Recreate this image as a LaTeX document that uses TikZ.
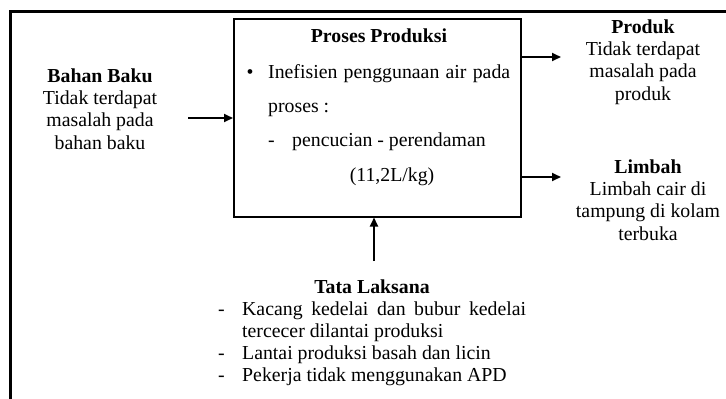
\documentclass[tikz,border=0pt]{standalone}
\usepackage{fontspec}
\setmainfont{Liberation Serif}
\usetikzlibrary{arrows.meta}
\begin{document}
\begin{tikzpicture}[x=1pt,y=-1pt,
  txt/.style={inner sep=0pt, font=\fontsize{19.8}{22.3}\selectfont},
  blk/.style={txt, align=center, anchor=base},
  lft/.style={txt, anchor=base west},
  arr/.style={line width=2pt, -{Triangle[length=9pt,width=8pt]}},
]
\useasboundingbox (0,0) rectangle (726,399);
\draw[line width=3pt] (10,399) -- (10,11) -- (726,11);
% process box
\node[draw, line width=1.5pt, inner sep=0pt, minimum width=287pt, minimum height=198pt, anchor=north west] (box) at (233,18) {};
\node[blk] (judul) at (379,42) {\textbf{Proses Produksi}};
\node[blk] (bul) at (250,78) {•};
\node[lft] (l1) at (268,78) {\makebox[242pt][s]{Inefisien penggunaan air pada}};
\node[lft] (l2) at (268,112) {proses :};
\node[lft] (d1) at (268,146) {-};
\node[lft] (l3) at (292,146) {pencucian - perendaman};
\node[blk] (l4) at (392,181) {(11,2L/kg)};
% side blocks (anchor base = last line baseline)
\node[blk] (bahan) at (100,149) {\textbf{Bahan Baku}\\Tidak terdapat\\masalah pada\\bahan baku};
\node[blk] (produk) at (643,100) {\textbf{Produk}\\Tidak terdapat\\masalah pada\\produk};
\node[blk] (limbah) at (648,240) {\textbf{Limbah}\\Limbah cair di\\tampung di kolam\\terbuka};
% tata laksana
\node[blk] (tata) at (372,293) {\textbf{Tata Laksana}};
\node[lft] (t1d) at (218,315) {-};
\node[lft] (t1) at (242,315) {\makebox[284pt][s]{Kacang kedelai dan bubur kedelai}};
\node[lft] (t2) at (242,337) {tercecer dilantai produksi};
\node[lft] (t3d) at (218,359) {-};
\node[lft] (t3) at (242,359) {Lantai produksi basah dan licin};
\node[lft] (t4d) at (218,381) {-};
\node[lft] (t4) at (242,381) {Pekerja tidak menggunakan APD};
% arrows
\coordinate (ain) at (188,118);
\coordinate (aprod) at (561,57);
\coordinate (alimb) at (561,177);
\coordinate (atata) at (374,261);
\draw[arr] (ain) -- (ain -| box.west);
\draw[arr] (aprod -| box.east) -- (aprod);
\draw[arr] (alimb -| box.east) -- (alimb);
\draw[arr] (atata) -- (atata |- box.south);
\end{tikzpicture}
\end{document}
